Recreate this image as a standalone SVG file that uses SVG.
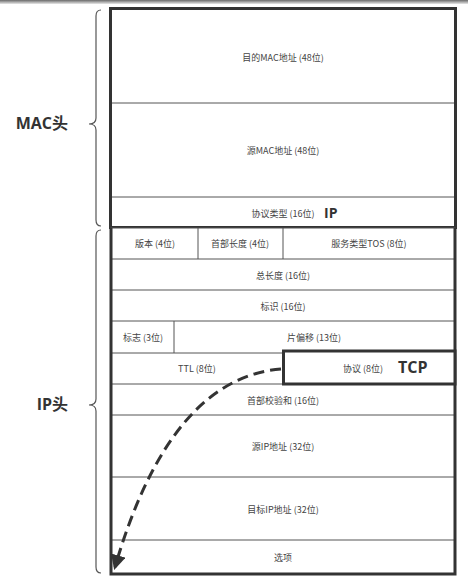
<svg xmlns="http://www.w3.org/2000/svg" width="468" height="577" viewBox="0 0 468 577">
<defs>
<linearGradient id="topbar" x1="0" y1="0" x2="0" y2="1">
<stop offset="0" stop-color="#6a6a6a"/>
<stop offset="1" stop-color="#e8e8e8"/>
</linearGradient>
<marker id="arr" viewBox="0 0 10 10" refX="8" refY="5" markerWidth="5" markerHeight="5" orient="auto" markerUnits="strokeWidth">
<path d="M0,0 L10,5 L0,10 z" fill="#333"/>
</marker>
</defs>
<style>
.cell{fill:#fff;stroke:#555;stroke-width:1}
.thick{fill:none;stroke:#333;stroke-width:3}
.t{font-family:"Noto Sans CJK SC","Liberation Sans",sans-serif;font-size:9px;fill:#444;text-anchor:middle;dominant-baseline:central}
.b{font-family:"Open Sans","Noto Sans CJK SC",sans-serif;font-weight:bold;fill:#333;dominant-baseline:central}
.brace{fill:none;stroke:#555;stroke-width:1.2}
.div{stroke:#555;stroke-width:1}
</style>
<rect x="0" y="0" width="468" height="577" fill="#fff"/>
<rect x="0" y="0" width="468" height="4" fill="url(#topbar)"/>

<g id="braces">
<path class="brace" d="M101,10 Q96,10 96,16 L96,118 Q96,124 89,124 Q96,124 96,130 L96,220 Q96,226 101,226"/>
<path class="brace" d="M101,230 Q96,230 96,236 L96,399 Q96,405 89,405 Q96,405 96,411 L96,567 Q96,573 101,573"/>
</g>
<g id="label-mac"><text class="b" x="68" y="123" font-size="16" text-anchor="end">MAC头</text></g>
<g id="label-ip"><text class="b" x="68" y="404" font-size="16" text-anchor="end">IP头</text></g>

<g id="mac">
<rect class="cell" x="110.5" y="8.5" width="345" height="219"/>
<line class="div" x1="110" y1="103" x2="456" y2="103"/>
<line class="div" x1="110" y1="197" x2="456" y2="197"/>
<text class="t" x="283" y="57">目的MAC地址 (48位)</text>
<text class="t" x="283" y="150">源MAC地址 (48位)</text>
<text class="t" x="283" y="213">协议类型 (16位)</text>
<text class="b" x="324" y="212" font-size="14">IP</text>
<rect class="thick" x="110.5" y="8.5" width="345" height="219"/>
</g>

<g id="ip">
<rect class="cell" x="111" y="228" width="344" height="346"/>
<line class="div" x1="111" y1="259" x2="455" y2="259"/>
<line class="div" x1="111" y1="290" x2="455" y2="290"/>
<line class="div" x1="111" y1="321" x2="455" y2="321"/>
<line class="div" x1="111" y1="353" x2="455" y2="353"/>
<line class="div" x1="111" y1="384" x2="455" y2="384"/>
<line class="div" x1="111" y1="415" x2="455" y2="415"/>
<line class="div" x1="111" y1="477" x2="455" y2="477"/>
<line class="div" x1="111" y1="540" x2="455" y2="540"/>
<line class="div" x1="198" y1="228" x2="198" y2="259"/>
<line class="div" x1="283" y1="228" x2="283" y2="259"/>
<line class="div" x1="174" y1="321" x2="174" y2="353"/>
<text class="t" x="155" y="243">版本 (4位)</text>
<text class="t" x="240" y="243">首部长度 (4位)</text>
<text class="t" x="369" y="243">服务类型TOS (8位)</text>
<text class="t" x="283" y="275">总长度 (16位)</text>
<text class="t" x="283" y="306">标识 (16位)</text>
<text class="t" x="143" y="337">标志 (3位)</text>
<text class="t" x="314" y="337">片偏移 (13位)</text>
<text class="t" x="197" y="368">TTL (8位)</text>
<text class="t" x="283" y="400">首部校验和 (16位)</text>
<text class="t" x="283" y="446">源IP地址 (32位)</text>
<text class="t" x="283" y="509">目标IP地址 (32位)</text>
<text class="t" x="283" y="557">选项</text>
<path class="thick" d="M111,228 L111,574 L455,574 L455,228"/>
</g>

<g id="proto">
<rect class="cell" x="283.5" y="351" width="171" height="33" stroke="none"/>
<text class="t" x="363" y="368">协议 (8位)</text>
<text class="b" x="398" y="367" font-size="16">TCP</text>
<rect class="thick" x="283.5" y="351" width="171.5" height="33"/>
</g>

<g id="connectors">
<path d="M281,369 Q170,378 115,567" fill="none" stroke="#333" stroke-width="3" stroke-dasharray="11,6" marker-end="url(#arr)"/>
</g>
</svg>
